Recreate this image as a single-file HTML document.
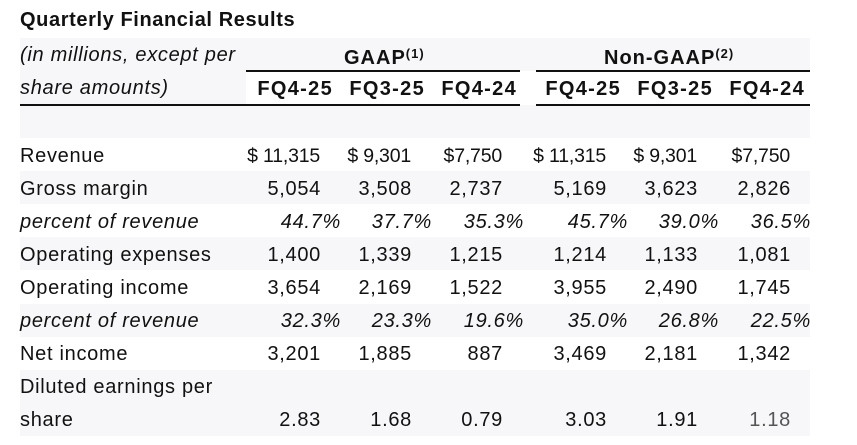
<!DOCTYPE html>
<html><head><meta charset="utf-8"><style>
*{margin:0;padding:0;box-sizing:border-box}
body{width:857px;height:445px;background:#fff;position:relative;overflow:hidden;font-family:"Liberation Sans",sans-serif;color:#111}
.t{position:absolute;white-space:nowrap;font-size:20px;line-height:20px;letter-spacing:0.7px}
.r{text-align:right}
.i{font-style:italic}
.b{font-weight:bold}
.rv{font-size:19.5px;letter-spacing:-0.2px}
.bg{position:absolute;background:#f7f7f9}
.ln{position:absolute;height:1.5px;background:#111}
</style></head><body>
<div class="bg" style="left:20px;top:38px;width:790px;height:33px"></div>
<div class="bg" style="left:20px;top:71px;width:226px;height:33px"></div>
<div class="bg" style="left:20px;top:105px;width:790px;height:33px"></div>
<div class="bg" style="left:20px;top:171px;width:790px;height:33px"></div>
<div class="bg" style="left:20px;top:237px;width:790px;height:33px"></div>
<div class="bg" style="left:20px;top:304px;width:790px;height:33px"></div>
<div class="bg" style="left:20px;top:370px;width:790px;height:66px"></div>
<div class="ln" style="left:246px;top:70px;width:274px"></div>
<div class="ln" style="left:536px;top:70px;width:274px"></div>
<div class="ln" style="left:20px;top:104px;width:500px"></div>
<div class="ln" style="left:536px;top:104px;width:274px"></div>

<div class="t b" style="left:20px;top:10px;font-size:20px;letter-spacing:0.6px">Quarterly Financial Results</div>
<div class="t i" style="left:20px;top:45px">(in millions, except per</div>
<div class="t i" style="left:20px;top:78px">share amounts)</div>
<div class="t b" style="left:344px;top:44px;letter-spacing:1px">GAAP<sup style="font-size:13px;vertical-align:6px">(1)</sup></div>
<div class="t b" style="left:604px;top:44px;letter-spacing:1px">Non-GAAP<sup style="font-size:13px;vertical-align:6px">(2)</sup></div>
<div class="t b r" style="left:236px;width:97px;top:79px;letter-spacing:1.3px">FQ4-25</div>
<div class="t b r" style="left:328px;width:97px;top:79px;letter-spacing:1.3px">FQ3-25</div>
<div class="t b r" style="left:420px;width:97px;top:79px;letter-spacing:1.3px">FQ4-24</div>
<div class="t b r" style="left:524px;width:97px;top:79px;letter-spacing:1.3px">FQ4-25</div>
<div class="t b r" style="left:616px;width:97px;top:79px;letter-spacing:1.3px">FQ3-25</div>
<div class="t b r" style="left:708px;width:97px;top:79px;letter-spacing:1.3px">FQ4-24</div>

<div class="t" style="left:20px;top:146px">Revenue</div>
<div class="t" style="left:20px;top:179px">Gross margin</div>
<div class="t i" style="left:20px;top:212px">percent of revenue</div>
<div class="t" style="left:20px;top:245px">Operating expenses</div>
<div class="t" style="left:20px;top:278px">Operating income</div>
<div class="t i" style="left:20px;top:311px">percent of revenue</div>
<div class="t" style="left:20px;top:344px">Net income</div>
<div class="t" style="left:20px;top:377px">Diluted earnings per</div>
<div class="t" style="left:20px;top:410px">share</div>

<div class="t r rv" style="left:200px;width:120px;top:146px">$ 11,315</div>
<div class="t r rv" style="left:291px;width:120px;top:146px">$ 9,301</div>
<div class="t r rv" style="left:382px;width:120px;top:146px">$7,750</div>
<div class="t r rv" style="left:486px;width:120px;top:146px">$ 11,315</div>
<div class="t r rv" style="left:577px;width:120px;top:146px">$ 9,301</div>
<div class="t r rv" style="left:670px;width:120px;top:146px">$7,750</div>

<div class="t r" style="left:221px;width:100px;top:179px">5,054</div>
<div class="t r" style="left:312px;width:100px;top:179px">3,508</div>
<div class="t r" style="left:403px;width:100px;top:179px">2,737</div>
<div class="t r" style="left:507px;width:100px;top:179px">5,169</div>
<div class="t r" style="left:598px;width:100px;top:179px">3,623</div>
<div class="t r" style="left:691px;width:100px;top:179px">2,826</div>

<div class="t r i" style="left:241px;width:100px;top:212px">44.7%</div>
<div class="t r i" style="left:332px;width:100px;top:212px">37.7%</div>
<div class="t r i" style="left:424px;width:100px;top:212px">35.3%</div>
<div class="t r i" style="left:528px;width:100px;top:212px">45.7%</div>
<div class="t r i" style="left:619px;width:100px;top:212px">39.0%</div>
<div class="t r i" style="left:711px;width:100px;top:212px">36.5%</div>

<div class="t r" style="left:221px;width:100px;top:245px">1,400</div>
<div class="t r" style="left:312px;width:100px;top:245px">1,339</div>
<div class="t r" style="left:403px;width:100px;top:245px">1,215</div>
<div class="t r" style="left:507px;width:100px;top:245px">1,214</div>
<div class="t r" style="left:598px;width:100px;top:245px">1,133</div>
<div class="t r" style="left:691px;width:100px;top:245px">1,081</div>

<div class="t r" style="left:221px;width:100px;top:278px">3,654</div>
<div class="t r" style="left:312px;width:100px;top:278px">2,169</div>
<div class="t r" style="left:403px;width:100px;top:278px">1,522</div>
<div class="t r" style="left:507px;width:100px;top:278px">3,955</div>
<div class="t r" style="left:598px;width:100px;top:278px">2,490</div>
<div class="t r" style="left:691px;width:100px;top:278px">1,745</div>

<div class="t r i" style="left:241px;width:100px;top:311px">32.3%</div>
<div class="t r i" style="left:332px;width:100px;top:311px">23.3%</div>
<div class="t r i" style="left:424px;width:100px;top:311px">19.6%</div>
<div class="t r i" style="left:528px;width:100px;top:311px">35.0%</div>
<div class="t r i" style="left:619px;width:100px;top:311px">26.8%</div>
<div class="t r i" style="left:711px;width:100px;top:311px">22.5%</div>

<div class="t r" style="left:221px;width:100px;top:344px">3,201</div>
<div class="t r" style="left:312px;width:100px;top:344px">1,885</div>
<div class="t r" style="left:403px;width:100px;top:344px">887</div>
<div class="t r" style="left:507px;width:100px;top:344px">3,469</div>
<div class="t r" style="left:598px;width:100px;top:344px">2,181</div>
<div class="t r" style="left:691px;width:100px;top:344px">1,342</div>

<div class="t r" style="left:221px;width:100px;top:410px">2.83</div>
<div class="t r" style="left:312px;width:100px;top:410px">1.68</div>
<div class="t r" style="left:403px;width:100px;top:410px">0.79</div>
<div class="t r" style="left:507px;width:100px;top:410px">3.03</div>
<div class="t r" style="left:598px;width:100px;top:410px">1.91</div>
<div class="t r" style="left:691px;width:100px;top:410px;color:#555">1.18</div>
</body></html>
